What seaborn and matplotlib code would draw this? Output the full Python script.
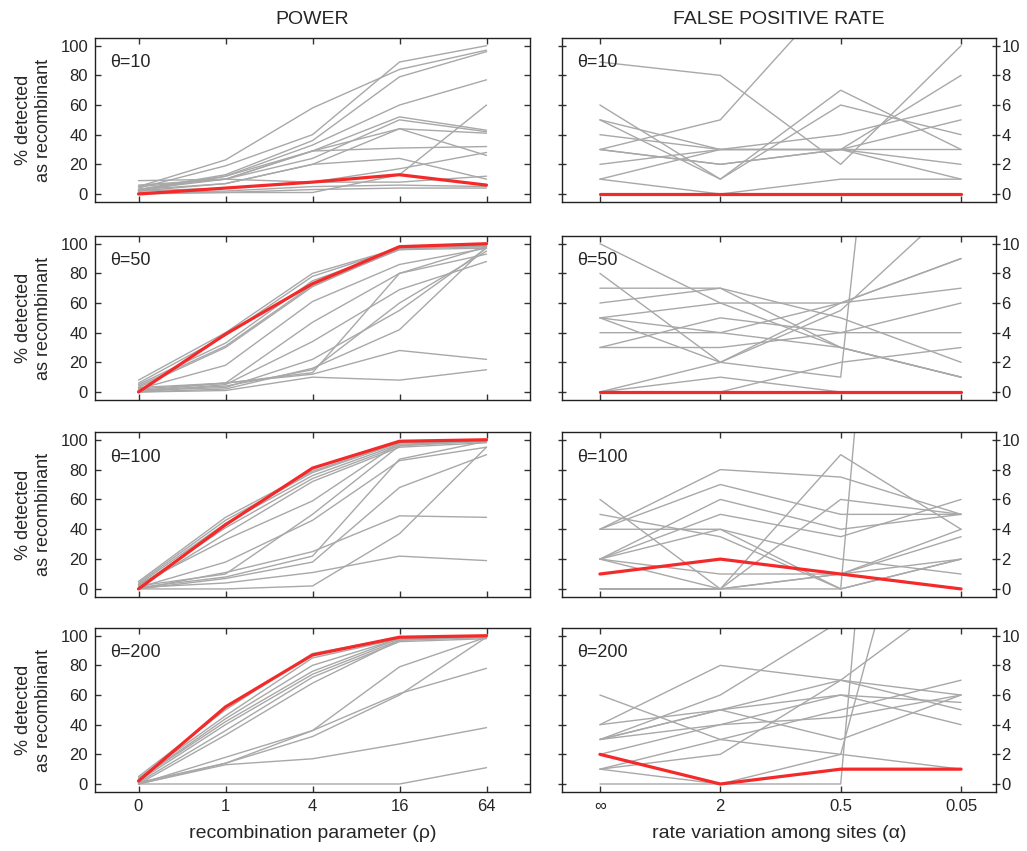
import numpy as np
import pandas as pd
import matplotlib
matplotlib.use("Agg")
import matplotlib.pyplot as plt
import seaborn as sns

sns.set_style("white")
plt.rcParams['font.family'] = ['Liberation Sans', 'DejaVu Sans']

# x categories
rho_labels = ['0', '1', '4', '16', '64']
alpha_labels = ['\u221e', '2', '0.5', '0.05']
thetas = [10, 50, 100, 200]

# power (% detected as recombinant), gray = other methods, red = highlighted method
power_gray_10 = [
    [5, 23, 58, 84, 97], [4, 19, 40, 89, 100], [3, 13, 36, 79, 96],
    [3, 12, 33, 60, 77], [2, 12, 29, 52, 43], [9, 10, 24, 50, 42],
    [3, 10, 29, 44, 41], [2, 7, 20, 44, 26], [6, 10, 29, 31, 32],
    [3, 7, 20, 24, 10], [1, 1, 1, 13, 60], [2, 4, 8, 17, 28],
    [5, 10, 8, 8, 12], [1, 2, 5, 6, 5], [0, 1, 3, 4, 4],
]
power_red_10 = [0, 4, 8, 13, 6]

power_gray_50 = [
    [8, 40, 80, 97, 99], [6, 38, 78, 97, 98], [5, 33, 75, 96, 97],
    [4, 31, 72, 96, 99], [3, 30, 71, 97, 98], [2, 18, 61, 86, 97],
    [1, 6, 47, 80, 93], [0, 5, 34, 69, 88], [1, 3, 22, 55, 97],
    [0, 2, 16, 42, 98], [2, 6, 12, 28, 22], [0, 1, 10, 8, 15],
    [3, 6, 13, 80, 98], [1, 4, 15, 60, 95],
]
power_red_50 = [0, 39, 73, 98, 100]

power_gray_100 = [
    [5, 48, 79, 98, 100], [4, 46, 78, 98, 99], [3, 44, 76, 97, 99],
    [2, 41, 74, 96, 99], [1, 37, 72, 95, 98], [3, 33, 59, 98, 99],
    [1, 18, 46, 86, 95], [0, 11, 25, 49, 48], [1, 8, 22, 87, 99],
    [0, 7, 18, 68, 90], [1, 4, 11, 22, 19], [0, 0, 2, 37, 95],
    [2, 10, 50, 96, 100],
]
power_red_100 = [0, 43, 81, 99, 100]

power_gray_200 = [
    [5, 50, 88, 99, 99], [4, 46, 85, 98, 99], [3, 42, 76, 98, 99],
    [2, 40, 74, 97, 99], [1, 36, 72, 96, 98], [0, 33, 68, 97, 99],
    [1, 14, 36, 79, 99], [0, 14, 32, 60, 99], [0, 18, 36, 61, 78],
    [0, 13, 17, 27, 38], [0, 0, 0, 0, 11], [3, 44, 80, 98, 100],
]
power_red_200 = [2, 52, 87, 99, 100]

# false positive rate (%)
fpr_gray_10 = [
    [8.9, 8, 2, 10], [3, 5, 14, 20], [6, 1, 7, 3], [5, 1, 6, 4],
    [5, 3, 3, 1], [4, 3, 3, 3], [3, 2, 3, 2], [2, 3, 4, 6],
    [1, 3, 3, 8], [1, 0, 1, 1], [3, 2, 3, 5],
]
fpr_red_10 = [0, 0, 0, 0]

fpr_gray_50 = [
    [10, 6, 3, 1], [8, 2, 6, 9], [7, 7, 3, 1], [6, 7, 5, 2],
    [5, 6, 6, 9], [5, 4, 3, 1], [4, 4, 6, 7], [3, 5, 4, 6],
    [3, 3, 4, 4], [0, 1, 0, 0], [0, 0, 2, 3], [0, 2, 1, 75],
    [5, 2, 5.5, 13],
]
fpr_red_50 = [0, 0, 0, 0]

fpr_gray_100 = [
    [6, 0, 9, 4], [4, 8, 7.5, 5], [4, 7, 5, 5], [2, 6, 4, 5],
    [2, 5, 3.5, 6], [5, 3.5, 0, 2], [2, 1, 1, 4], [2, 4, 0, 2],
    [0, 0, 6, 5], [0, 0, 1, 3.5], [4, 4, 2, 1], [2, 0, 1, 2],
    [0, 0, 0, 91],
]
fpr_red_100 = [1, 2, 1, 0]

fpr_gray_200 = [
    [6, 3, 2, 1], [4, 8, 7, 6], [3, 6, 11, 16], [3, 5, 7, 5],
    [2, 4, 6, 4], [1, 2, 7, 13], [1, 3, 5, 7], [0, 0, 0, 90],
    [1, 0, 2, 32], [4, 5, 6, 5.5], [3, 4, 4.5, 6], [3, 5, 3, 6],
]
fpr_red_200 = [2, 0, 1, 1]

power_gray = [power_gray_10, power_gray_50, power_gray_100, power_gray_200]
power_red = [power_red_10, power_red_50, power_red_100, power_red_200]
fpr_gray = [fpr_gray_10, fpr_gray_50, fpr_gray_100, fpr_gray_200]
fpr_red = [fpr_red_10, fpr_red_50, fpr_red_100, fpr_red_200]

GRAY = '#a8a8a8'
RED = '#f42a2a'


def to_long(series):
    rows = []
    for i, s in enumerate(series):
        for j, v in enumerate(s):
            rows.append({'method': i, 'x': j, 'y': v})
    return pd.DataFrame(rows)


def draw(ax, gray, red):
    df = to_long(gray)
    sns.lineplot(data=df, x='x', y='y', units='method', estimator=None,
                 color=GRAY, lw=1.0, ax=ax, legend=False)
    sns.lineplot(x=np.arange(len(red)), y=red, color=RED, lw=2.3, ax=ax)


fig = plt.figure(figsize=(10.27, 8.51), dpi=100)
W, H = 1027, 851
rows_px = [(38, 202), (236, 400), (432, 597), (628, 792)]

for r, (top, bot) in enumerate(rows_px):
    b = 1 - bot / H
    h = (bot - top) / H
    axl = fig.add_axes([95 / W, b, (530 - 95) / W, h])
    axr = fig.add_axes([562 / W, b, (996 - 562) / W, h])

    draw(axl, power_gray[r], power_red[r])
    axl.set_xlim(-0.5, 4.5)
    axl.set_ylim(-5.4, 105.2)
    axl.set_yticks([0, 20, 40, 60, 80, 100])
    axl.set_xticks(range(5))
    axl.set_ylabel('% detected\nas recombinant', fontsize=13, labelpad=6)
    axl.text(0.035, 0.9, '\u03b8=%d' % thetas[r], transform=axl.transAxes,
             fontsize=13, va='top', ha='left')

    draw(axr, fpr_gray[r], fpr_red[r])
    axr.set_xlim(-0.315, 3.29)
    axr.set_ylim(-0.54, 10.52)
    axr.set_yticks(range(0, 11, 2))
    axr.set_xticks(range(4))
    axr.yaxis.tick_right()
    axr.set_ylabel('')
    axr.text(0.035, 0.9, '\u03b8=%d' % thetas[r], transform=axr.transAxes,
             fontsize=13, va='top', ha='left')

    for ax in (axl, axr):
        ax.set_xlabel('')
        ax.tick_params(direction='in', length=4, width=1, top=True,
                       bottom=True, left=True, right=True, labelsize=12,
                       color='#333333', pad=5)
        for sp in ax.spines.values():
            sp.set_color('#222222')
            sp.set_linewidth(1.0)
        if r < 3:
            ax.set_xticklabels([])

    axr.tick_params(labelleft=False, labelright=True)
    axr.tick_params(axis='y', which='both', right=True, direction='inout',
                    length=6, pad=1)
    axr.tick_params(axis='y', left=True)
    axl.tick_params(labelright=False)

    if r == 0:
        axl.set_title('POWER', fontsize=14, pad=10)
        axr.set_title('FALSE POSITIVE RATE', fontsize=14, pad=10)
    if r == 3:
        axl.set_xticklabels(rho_labels)
        axr.set_xticklabels(alpha_labels)
        axl.set_xlabel('recombination parameter (\u03c1)', fontsize=14, labelpad=8)
        axr.set_xlabel('rate variation among sites (\u03b1)', fontsize=14, labelpad=8)

fig.savefig('out.png', dpi=100, facecolor='white')
